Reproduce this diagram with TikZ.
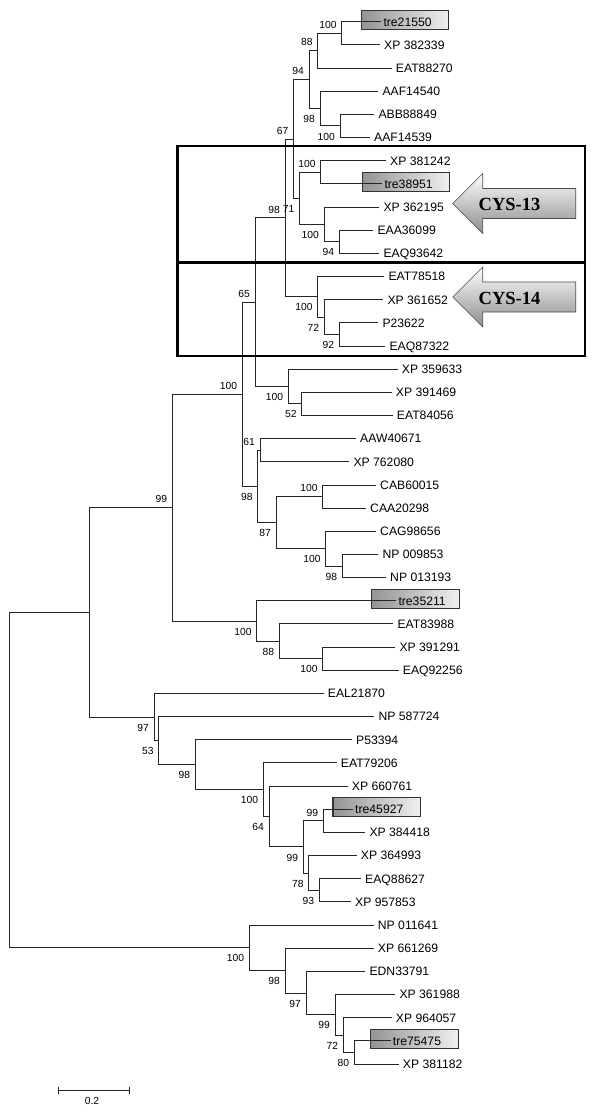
\documentclass[tikz,border=0pt]{standalone}
\usepackage{fontspec}
\setmainfont{Liberation Sans}
\newfontfamily\cysfont{Liberation Serif}
\usetikzlibrary{calc}
\pgfdeclarelayer{background}
\pgfsetlayers{background,main}
\tikzset{
  leaf/.style={anchor=west, inner xsep=4pt, inner ysep=0pt, font=\fontsize{12.2}{12.2}\selectfont, text height=8.7pt, text depth=0pt},
  bleaf/.style={leaf, inner xsep=2pt},
  bsa/.style={anchor=south east, inner sep=0pt, font=\fontsize{10.3}{10.3}\selectfont, text height=7.4pt, text depth=0pt, xshift=-5pt, yshift=4.5pt},
  bsb/.style={anchor=north east, inner sep=0pt, font=\fontsize{10.3}{10.3}\selectfont, text height=7.4pt, text depth=0pt, xshift=-5pt, yshift=-6.5pt},
  br/.style={line width=0.9pt, draw=black!85},
  tbox/.style={draw=black!80, line width=1.1pt, left color=black!42, right color=black!6},
  frame/.style={draw=black, line width=2.6pt},
  bigarrow/.style={draw=black!70, line width=0.6pt, top color=white, bottom color=black!45},
  cys/.style={font=\cysfont\bfseries\fontsize{18.5}{18.5}\selectfont, inner sep=0pt, text height=12.5pt, text depth=0pt}
}
\begin{document}
\begin{tikzpicture}[x=1pt,y=-1pt]
\useasboundingbox (0,0) rectangle (600,1115);

% ---------- leaves ----------
\node[bleaf] (L1) at (381.3,21.7) {tre21550};
\node[leaf] (L2) at (380,44.86) {XP 382339};
\node[leaf] (L3) at (391.7,68.03) {EAT88270};
\node[leaf] (L4) at (378.3,91.19) {AAF14540};
\node[leaf] (L5) at (374.3,114.35) {ABB88849};
\node[leaf] (L6) at (370,137.52) {AAF14539};
\node[leaf] (L7) at (386,160.68) {XP 381242};
\node[bleaf] (L8) at (382.3,183.84) {tre38951};
\node[leaf] (L9) at (379.3,207.0) {XP 362195};
\node[leaf] (L10) at (373.3,230.17) {EAA36099};
\node[leaf] (L11) at (379.3,253.33) {EAQ93642};
\node[leaf] (L12) at (384.3,276.49) {EAT78518};
\node[leaf] (L13) at (383.3,299.66) {XP 361652};
\node[leaf] (L14) at (378.3,322.82) {P23622};
\node[leaf] (L15) at (385.3,345.98) {EAQ87322};
\node[leaf] (L16) at (397.7,369.15) {XP 359633};
\node[leaf] (L17) at (391.7,392.31) {XP 391469};
\node[leaf] (L18) at (392.7,415.47) {EAT84056};
\node[leaf] (L19) at (356,438.63) {AAW40671};
\node[leaf] (L20) at (349.3,461.80) {XP 762080};
\node[leaf] (L21) at (376,484.96) {CAB60015};
\node[leaf] (L22) at (366,508.12) {CAA20298};
\node[leaf] (L23) at (376,531.29) {CAG98656};
\node[leaf] (L24) at (378.3,554.45) {NP 009853};
\node[leaf] (L25) at (386,577.61) {NP 013193};
\node[bleaf] (L26) at (396.3,600.78) {tre35211};
\node[leaf] (L27) at (393.3,623.94) {EAT83988};
\node[leaf] (L28) at (395.3,647.10) {XP 391291};
\node[leaf] (L29) at (398.7,670.27) {EAQ92256};
\node[leaf] (L30) at (323.7,693.43) {EAL21870};
\node[leaf] (L31) at (374.3,716.59) {NP 587724};
\node[leaf] (L32) at (352,739.75) {P53394};
\node[leaf] (L33) at (336.7,762.92) {EAT79206};
\node[leaf] (L34) at (347.7,786.08) {XP 660761};
\node[bleaf] (L35) at (353,809.24) {tre45927};
\node[leaf] (L36) at (365.3,832.41) {XP 384418};
\node[leaf] (L37) at (356.7,855.57) {XP 364993};
\node[leaf] (L38) at (361,878.73) {EAQ88627};
\node[leaf] (L39) at (351,901.90) {XP 957853};
\node[leaf] (L40) at (373.7,925.06) {NP 011641};
\node[leaf] (L41) at (373.7,948.22) {XP 661269};
\node[leaf] (L42) at (365.3,971.38) {EDN33791};
\node[leaf] (L43) at (395.3,994.55) {XP 361988};
\node[leaf] (L44) at (391.7,1017.71) {XP 964057};
\node[bleaf] (L45) at (390.7,1040.87) {tre75475};
\node[leaf] (L46) at (398.7,1064.04) {XP 381182};

% highlighted boxes behind the labels
\begin{pgfonlayer}{background}
\path[tbox] ($(L1.west)+(-20,-11.5)$) rectangle +(87.5,19);
\path[tbox] ($(L8.west)+(-20,-11.5)$) rectangle +(87.5,19);
\path[tbox] ($(L26.west)+(-24.6,-11.5)$) rectangle +(87.5,19);
\path[tbox] ($(L35.west)+(-20,-11.5)$) rectangle +(87.5,19);
\path[tbox] ($(L45.west)+(-20,-11.5)$) rectangle +(87.5,19);
\end{pgfonlayer}

% ---------- internal nodes ----------
\coordinate (a1) at (341.7,33.28);
\coordinate (a2) at (317.7,50.66);
\coordinate (a3) at (340,125.94);
\coordinate (a4) at (320,108.56);
\coordinate (a5) at (309,79.61);
\coordinate (c1) at (320.7,172.26);
\coordinate (c2) at (339.3,241.75);
\coordinate (c3) at (324,224.38);
\coordinate (c13) at (299.5,198.32);
\coordinate (nx) at (293.5,138.97);
\coordinate (d1) at (339.3,334.4);
\coordinate (d2) at (324.3,317.03);
\coordinate (c14) at (317.7,296.76);
\coordinate (ny) at (285,217.87);
\coordinate (e1) at (301.7,403.89);
\coordinate (e2) at (288.3,386.52);
\coordinate (nz) at (255,302.2);
\coordinate (f1) at (260,450.22);
\coordinate (f2) at (322.7,496.54);
\coordinate (f3) at (342.3,566.03);
\coordinate (f4) at (325.7,548.66);
\coordinate (f5) at (276,522.6);
\coordinate (f6) at (257.7,486.41);
\coordinate (nw) at (242.3,394.31);
\coordinate (g1) at (322.7,658.69);
\coordinate (g2) at (279.3,641.32);
\coordinate (g3) at (256.7,621.05);
\coordinate (nv) at (172.3,507.68);
\coordinate (h1) at (319.3,890.32);
\coordinate (h2) at (308.7,872.95);
\coordinate (h3) at (323.3,820.83);
\coordinate (h4) at (303.3,846.89);
\coordinate (h5) at (269,816.49);
\coordinate (h6) at (263.3,789.71);
\coordinate (h7) at (195.3,764.73);
\coordinate (h8) at (158.7,740.66);
\coordinate (h9) at (154,717.05);
\coordinate (na) at (89.3,612.37);
\coordinate (k1) at (354.3,1052.46);
\coordinate (k2) at (343.3,1035.09);
\coordinate (k3) at (335,1014.82);
\coordinate (k4) at (306,993.1);
\coordinate (k5) at (285,970.66);
\coordinate (k6) at (249.3,947.86);
\coordinate (root) at (9.3,780.1);

% ---------- branches ----------
\draw[br] (root) |- (na);  \draw[br] (root) |- (k6);
\draw[br] (na) |- (nv);    \draw[br] (na) |- (h9);
\draw[br] (nv) |- (nw);    \draw[br] (nv) |- (g3);
\draw[br] (nw) |- (nz);    \draw[br] (nw) |- (f6);
\draw[br] (nz) |- (ny);    \draw[br] (nz) |- (e2);
\draw[br] (ny) |- (nx);    \draw[br] (ny) |- (c14);
\draw[br] (nx) |- (a5);    \draw[br] (nx) |- (c13);
\draw[br] (a5) |- (a2);    \draw[br] (a5) |- (a4);
\draw[br] (a2) |- (a1);    \draw[br] (a2) |- (L3.west);
\draw[br] (a1) |- (L1.west); \draw[br] (a1) |- (L2.west);
\draw[br] (a4) |- (L4.west); \draw[br] (a4) |- (a3);
\draw[br] (a3) |- (L5.west); \draw[br] (a3) |- (L6.west);
\draw[br] (c13) |- (c1);   \draw[br] (c13) |- (c3);
\draw[br] (c1) |- (L7.west); \draw[br] (c1) |- (L8.west);
\draw[br] (c3) |- (L9.west); \draw[br] (c3) |- (c2);
\draw[br] (c2) |- (L10.west); \draw[br] (c2) |- (L11.west);
\draw[br] (c14) |- (L12.west); \draw[br] (c14) |- (d2);
\draw[br] (d2) |- (L13.west); \draw[br] (d2) |- (d1);
\draw[br] (d1) |- (L14.west); \draw[br] (d1) |- (L15.west);
\draw[br] (e2) |- (L16.west); \draw[br] (e2) |- (e1);
\draw[br] (e1) |- (L17.west); \draw[br] (e1) |- (L18.west);
\draw[br] (f6) |- (f1);    \draw[br] (f6) |- (f5);
\draw[br] (f1) |- (L19.west); \draw[br] (f1) |- (L20.west);
\draw[br] (f5) |- (f2);    \draw[br] (f5) |- (f4);
\draw[br] (f2) |- (L21.west); \draw[br] (f2) |- (L22.west);
\draw[br] (f4) |- (L23.west); \draw[br] (f4) |- (f3);
\draw[br] (f3) |- (L24.west); \draw[br] (f3) |- (L25.west);
\draw[br] (g3) |- (L26.west); \draw[br] (g3) |- (g2);
\draw[br] (g2) |- (L27.west); \draw[br] (g2) |- (g1);
\draw[br] (g1) |- (L28.west); \draw[br] (g1) |- (L29.west);
\draw[br] (h9) |- (L30.west); \draw[br] (h9) |- (h8);
\draw[br] (h8) |- (L31.west); \draw[br] (h8) |- (h7);
\draw[br] (h7) |- (L32.west); \draw[br] (h7) |- (h6);
\draw[br] (h6) |- (L33.west); \draw[br] (h6) |- (h5);
\draw[br] (h5) |- (L34.west); \draw[br] (h5) |- (h4);
\draw[br] (h4) |- (h3);    \draw[br] (h4) |- (h2);
\draw[br] (h3) |- (L35.west); \draw[br] (h3) |- (L36.west);
\draw[br] (h2) |- (L37.west); \draw[br] (h2) |- (h1);
\draw[br] (h1) |- (L38.west); \draw[br] (h1) |- (L39.west);
\draw[br] (k6) |- (L40.west); \draw[br] (k6) |- (k5);
\draw[br] (k5) |- (L41.west); \draw[br] (k5) |- (k4);
\draw[br] (k4) |- (L42.west); \draw[br] (k4) |- (k3);
\draw[br] (k3) |- (L43.west); \draw[br] (k3) |- (k2);
\draw[br] (k2) |- (L44.west); \draw[br] (k2) |- (k1);
\draw[br] (k1) |- (L45.west); \draw[br] (k1) |- (L46.west);

% ---------- bootstrap values ----------
\node[bsa] (b1) at (a1) {100};
\node[bsa] (b2) at (a2) {88};
\node[bsa] (b3) at (a5) {94};
\node[bsb] (b4) at (a4) {98};
\node[bsb] (b5) at (a3) {100};
\node[bsa] (b6) at (nx) {67};
\node[bsa] (b7) at (c1) {100};
\node[bsb] (b8) at (c13) {71};
\node[bsb] (b9) at (c3) {100};
\node[bsb] (b10) at (c2) {94};
\node[bsa] (b11) at (ny) {98};
\node[bsb] (b12) at (c14) {100};
\node[bsb] (b13) at (d2) {72};
\node[bsb] (b14) at (d1) {92};
\node[bsa] (b15) at (nz) {65};
\node[bsb] (b16) at (e2) {100};
\node[bsb] (b17) at (e1) {52};
\node[bsa] (b18) at (nw) {100};
\node[bsb] (b19) at (f6) {98};
\node[bsa] (b20) at (f1) {61};
\node[bsb] (b21) at (f5) {87};
\node[bsa] (b22) at (f2) {100};
\node[bsb] (b23) at (f4) {100};
\node[bsb] (b24) at (f3) {98};
\node[bsa] (b25) at (nv) {99};
\node[bsb] (b26) at (g3) {100};
\node[bsb] (b27) at (g2) {88};
\node[bsb] (b28) at (g1) {100};
\node[bsb] (b29) at (h9) {97};
\node[bsb] (b30) at (h8) {53};
\node[bsb] (b31) at (h7) {98};
\node[bsb] (b32) at (h6) {100};
\node[bsb] (b33) at (h5) {64};
\node[bsb] (b34) at (h4) {99};
\node[bsa] (b35) at (h3) {99};
\node[bsb] (b36) at (h2) {78};
\node[bsb] (b37) at (h1) {93};
\node[bsb] (b38) at (k6) {100};
\node[bsb] (b39) at (k5) {98};
\node[bsb] (b40) at (k4) {97};
\node[bsb] (b41) at (k3) {99};
\node[bsb] (b42) at (k2) {72};
\node[bsb] (b43) at (k1) {80};

% ---------- CYS frames and arrows ----------
\draw[frame] (177.5,146) rectangle (585,262.7);
\draw[frame] (177.5,262.7) rectangle (585,356);

\path[bigarrow] (452.7,203.5) -- (482.7,173.5) -- (482.7,188.5) -- (575.7,188.5)
  -- (575.7,218.5) -- (482.7,218.5) -- (482.7,233.5) -- cycle;
\path[bigarrow] (452.7,297) -- (482.7,267) -- (482.7,282) -- (575.7,282)
  -- (575.7,312) -- (482.7,312) -- (482.7,327) -- cycle;
\node[cys] (t13) at (509.5,204.5) {CYS-13};
\node[cys] (t14) at (509.5,298) {CYS-14};

% ---------- scale bar ----------
\coordinate (s1) at (58,1090);
\coordinate (s2) at (129,1090);
\draw[br] (s1) -- (s2);
\draw[br] ($(s1)+(0,-3.5)$) -- ($(s1)+(0,3.5)$);
\draw[br] ($(s2)+(0,-3.5)$) -- ($(s2)+(0,3.5)$);
\node[inner sep=0pt, font=\fontsize{10.3}{10.3}\selectfont] (sl) at (92,1100.5) {0.2};
\end{tikzpicture}
\end{document}
